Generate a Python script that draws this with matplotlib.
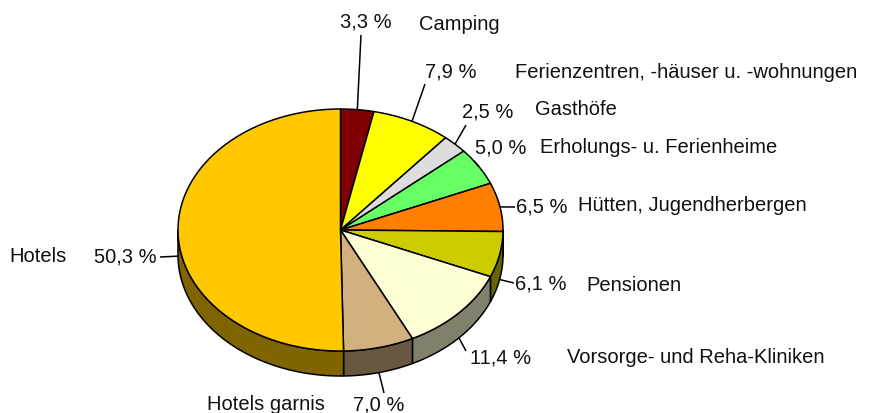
import numpy as np
import matplotlib
matplotlib.use("Agg")
import matplotlib.pyplot as plt
from matplotlib.patches import Polygon
from matplotlib.colors import to_rgb

plt.rcParams['font.family'] = ['Liberation Sans', 'DejaVu Sans']

# ---- data ----
categories = ["Camping", "Ferienzentren, -häuser u. -wohnungen", "Gasthöfe",
              "Erholungs- u. Ferienheime", "Hütten, Jugendherbergen", "Pensionen",
              "Vorsorge- und Reha-Kliniken", "Hotels garnis", "Hotels"]
values = [3.3, 7.9, 2.5, 5.0, 6.5, 6.1, 11.4, 7.0, 50.3]
value_labels = ["3,3 %", "7,9 %", "2,5 %", "5,0 %", "6,5 %", "6,1 %", "11,4 %", "7,0 %", "50,3 %"]
colors = ["#800000", "#FFFF00", "#DDDDDD", "#66FF66", "#FF8000", "#CCCC00",
          "#FFFFD6", "#D2B080", "#FFC800"]

# ---- layout (pixels) ----
W, H = 878, 414
cx, cy, rx, ry, depth = 340.5, 231.0, 162.5, 121.0, 25.0

# label layout: (value text x, y), (name text x, y), leader end point
val_pos = [(340, 22), (425, 72), (462, 112), (475, 148), (516, 207), (515, 284),
           (470, 358), (353, 405), (94, 257)]
name_pos = [(419, 24), (515, 72), (535, 110), (540, 148), (578, 206), (586, 286),
            (567, 358), (207, 405), (9, 257)]
lead_end = [(361, 36), (425, 85), (466, 126), (474, 162), (515, 208), (514, 284),
            (466, 352), (384, 394), (160, 258)]

fig = plt.figure(figsize=(W / 100, H / 100), dpi=100)
ax = fig.add_axes([0, 0, 1, 1])
ax.set_xlim(0, W)
ax.set_ylim(H, 0)
ax.axis('off')


def pt(theta_deg, dy=0.0):
    t = np.radians(theta_deg)
    return cx + rx * np.sin(t), cy - ry * np.cos(t) + dy


total = sum(values)
bounds = np.concatenate([[0], np.cumsum(values)]) / total * 360.0

# side walls (front half: 90..270 deg clockwise from top)
for i, c in enumerate(colors):
    a, b = bounds[i], bounds[i + 1]
    lo, hi = max(a, 90), min(b, 270)
    if hi <= lo:
        continue
    th = np.linspace(lo, hi, 80)
    top = [pt(t) for t in th]
    bot = [pt(t, depth) for t in th[::-1]]
    dark = tuple(v * 0.5 for v in to_rgb(c))
    ax.add_patch(Polygon(top + bot, closed=True, facecolor=dark,
                         edgecolor='black', lw=1.1, joinstyle='round'))

# top wedges
for i, c in enumerate(colors):
    a, b = bounds[i], bounds[i + 1]
    th = np.linspace(a, b, max(10, int((b - a) * 2)))
    poly = [(cx, cy)] + [pt(t) for t in th]
    ax.add_patch(Polygon(poly, closed=True, facecolor=c, edgecolor='black',
                         lw=1.1, joinstyle='round'))

# leader lines and labels
fs = 14.5
for i in range(len(values)):
    mid = (bounds[i] + bounds[i + 1]) / 2
    dy = depth if 90 < mid <= 270 else 0.0
    sx, sy = pt(mid, dy)
    ex, ey = lead_end[i]
    ax.plot([sx, ex], [sy, ey], color='black', lw=1.1, solid_capstyle='butt')
    ax.text(val_pos[i][0], val_pos[i][1], value_labels[i], fontsize=fs,
            ha='left', va='center', color='#111111')
    ax.text(name_pos[i][0], name_pos[i][1], categories[i], fontsize=fs,
            ha='left', va='center', color='#111111')

fig.savefig("out.png", dpi=100)
